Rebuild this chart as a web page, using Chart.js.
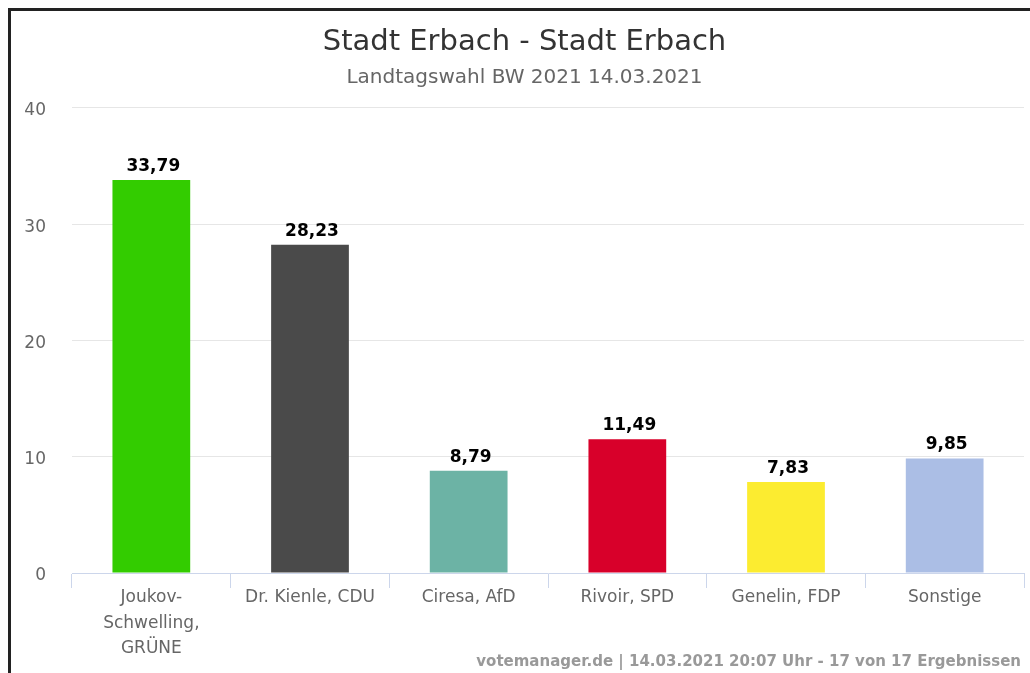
<!DOCTYPE html>
<html>
<head>
<meta charset="utf-8">
<script src="https://cdn.jsdelivr.net/npm/chart.js@4.4.0/dist/chart.umd.min.js"></script>
<style>
  html, body { margin: 0; padding: 0; background: #fff; }
  #wrap { position: relative; width: 1030px; height: 673px; overflow: hidden; }
  #frame { position: absolute; left: 8px; top: 8px; width: 1100px; height: 800px;
           border-top: 3px solid #222; border-left: 3px solid #222; }
  canvas { position: absolute; left: 0; top: 0; }
</style>
</head>
<body>
<div id="wrap">
  <div id="frame"></div>
  <canvas id="chart" width="1030" height="673"></canvas>
</div>
<script>
const categories = [
  ["Joukov-", "Schwelling,", "GRÜNE"],
  "Dr. Kienle, CDU",
  "Ciresa, AfD",
  "Rivoir, SPD",
  "Genelin, FDP",
  "Sonstige",
];
const shares = [33.79, 28.23, 8.79, 11.49, 7.83, 9.85];
const barColors = ["#33cc00", "#4a4a4a", "#6cb3a5", "#d8002a", "#fcec30", "#abbee5"];
const yTicks = [0, 10, 20, 30, 40];

const FONT = "'DejaVu Sans', Verdana, sans-serif";

const valueLabels = {
  id: "valueLabels",
  afterDatasetsDraw(chart) {
    const { ctx } = chart;
    const meta = chart.getDatasetMeta(0);
    ctx.save();
    ctx.font = "bold 17px " + FONT;
    ctx.fillStyle = "#000";
    ctx.textAlign = "center";
    ctx.textBaseline = "alphabetic";
    meta.data.forEach((bar, i) => {
      const text = shares[i].toFixed(2).replace(".", ",");
      ctx.fillText(text, bar.x + 2, bar.y - 9);
    });
    ctx.restore();
  },
};

const credits = {
  id: "credits",
  afterDraw(chart) {
    const { ctx } = chart;
    ctx.save();
    ctx.font = "bold 15px " + FONT;
    ctx.fillStyle = "#999";
    ctx.textAlign = "right";
    ctx.textBaseline = "middle";
    ctx.fillText("votemanager.de | 14.03.2021 20:07 Uhr - 17 von 17 Ergebnissen", 1021, 662);
    ctx.restore();
  },
};

new Chart(document.getElementById("chart"), {
  type: "bar",
  data: {
    labels: categories,
    datasets: [
      {
        data: shares,
        backgroundColor: barColors,
        barPercentage: 0.49,
        categoryPercentage: 1,
      },
    ],
  },
  options: {
    responsive: false,
    animation: false,
    layout: { padding: { left: 25, right: 6, top: 0, bottom: 0 } },
    plugins: {
      legend: { display: false },
      tooltip: { enabled: false },
      title: {
        display: true,
        text: "Stadt Erbach - Stadt Erbach",
        color: "#333",
        font: { family: FONT, size: 29, weight: "normal", lineHeight: 1.2 },
        padding: { top: 25, bottom: 0 },
      },
      subtitle: {
        display: true,
        text: "Landtagswahl BW 2021 14.03.2021",
        color: "#666",
        font: { family: FONT, size: 20, weight: "normal", lineHeight: 1.2 },
        padding: { top: 6, bottom: 18 },
      },
    },
    scales: {
      x: {
        afterFit: (scale) => { scale.height = 100; },
        grid: {
          offset: true,
          drawOnChartArea: false,
          tickLength: 15,
          color: "#ccd6eb",
        },
        border: { color: "#ccd6eb", width: 1 },
        ticks: {
          color: "#666",
          padding: -3,
          maxRotation: 0,
          autoSkip: false,
          font: { family: FONT, size: 17, lineHeight: 1.5 },
        },
      },
      y: {
        min: 0,
        max: 40,
        afterFit: (scale) => { scale.width = 47; },
        afterBuildTicks: (scale) => { scale.ticks = yTicks.map((v) => ({ value: v })); },
        grid: {
          drawTicks: false,
          color: (c) => (c.tick && c.tick.value === 0 ? "rgba(0,0,0,0)" : "#e6e6e6"),
        },
        border: { display: false },
        ticks: {
          color: "#666",
          padding: 26,
          labelOffset: 3,
          font: { family: FONT, size: 17 },
        },
      },
    },
  },
  plugins: [valueLabels, credits],
});
</script>
</body>
</html>
